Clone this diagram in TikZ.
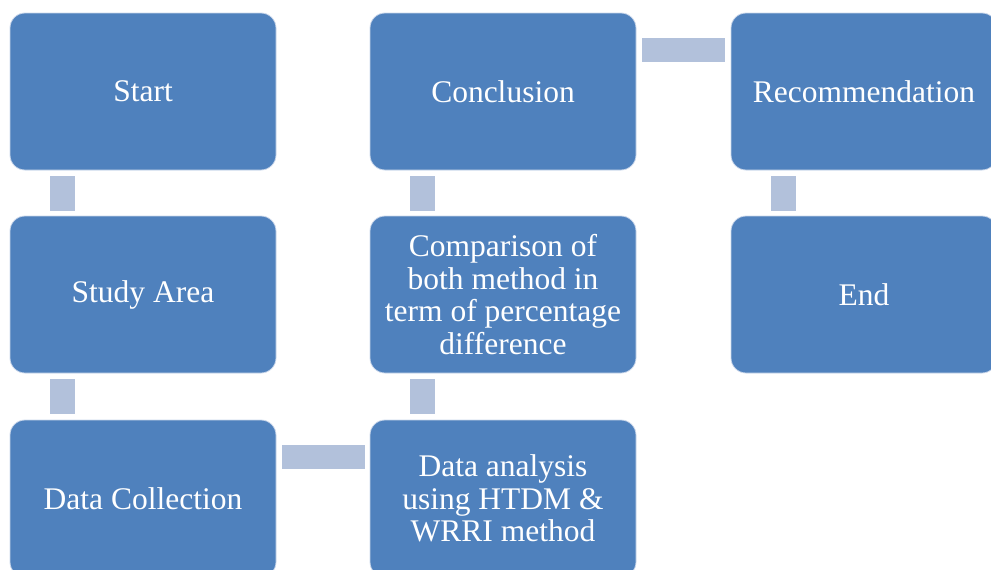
\documentclass[tikz,border=0pt]{standalone}
\usepackage{fontspec}
\setmainfont{Liberation Serif}
\definecolor{boxblue}{HTML}{4F81BD}
\definecolor{connblue}{HTML}{B2C1DB}
\definecolor{boxline}{HTML}{C9D6EA}
\tikzset{
  stagebox/.style={draw=boxline, line width=0.8pt, fill=boxblue, rounded corners=15pt,
    minimum width=266pt, minimum height=157pt, inner sep=0pt, align=center,
    text=white, font=\fontsize{31.5}{32.5}\selectfont},
  conn/.style={fill=connblue}
}
\begin{document}
\begin{tikzpicture}[x=1pt,y=-1pt]
\useasboundingbox (0,0) rectangle (991,570);
\node[stagebox] (start) at (143,91.5) {Start};
\node[stagebox] (study) at (143,294.5) {Study Area};
\node[stagebox] (collection) at (143,498.5) {Data Collection};
\node[stagebox] (conclusion) at (503,91.5) {Conclusion};
\node[stagebox] (comparison) at (503,294.5) {Comparison of\\both method in\\term of percentage\\difference};
\node[stagebox] (analysis) at (503,498.5) {Data analysis\\using HTDM \&\\WRRI method};
\node[stagebox] (recommendation) at (864,91.5) {Recommendation};
\node[stagebox] (end) at (864,294.5) {End};
% connectors
\fill[conn] ([shift={(40,6)}]start.south west) rectangle ([shift={(65,41)}]start.south west);
\fill[conn] ([shift={(40,6)}]study.south west) rectangle ([shift={(65,41)}]study.south west);
\fill[conn] ([shift={(6,25)}]collection.north east) rectangle ([shift={(89,49)}]collection.north east);
\fill[conn] ([shift={(40,6)}]comparison.south west) rectangle ([shift={(65,41)}]comparison.south west);
\fill[conn] ([shift={(40,6)}]conclusion.south west) rectangle ([shift={(65,41)}]conclusion.south west);
\fill[conn] ([shift={(6,25)}]conclusion.north east) rectangle ([shift={(89,49)}]conclusion.north east);
\fill[conn] ([shift={(40,6)}]recommendation.south west) rectangle ([shift={(65,41)}]recommendation.south west);
\end{tikzpicture}
\end{document}
